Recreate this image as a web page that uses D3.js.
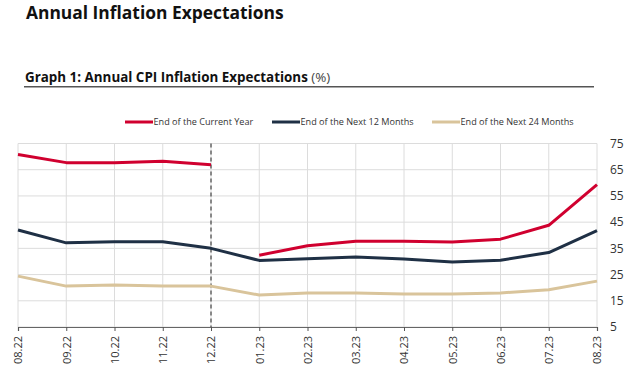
<!DOCTYPE html>
<html><head><meta charset="utf-8">
<script src="https://cdn.jsdelivr.net/npm/d3@7"></script>
<style>
body{margin:0;background:#fff;}
svg{display:block;font-family:"Open Sans",sans-serif;}
</style></head>
<body><svg id="c" width="641" height="380"></svg>
<script>
const months = ["08.22","09.22","10.22","11.22","12.22","01.23","02.23","03.23","04.23","05.23","06.23","07.23","08.23"];
const currentYear = [70.8,67.7,67.7,68.2,66.9,32.4,36.0,37.7,37.7,37.4,38.5,43.8,59.3];
const next12 = [42.0,37.1,37.5,37.5,35.0,30.4,31.0,31.7,30.9,29.8,30.5,33.4,41.8];
const next24 = [24.4,20.6,21.0,20.6,20.6,17.2,18.0,18.0,17.6,17.6,18.0,19.2,22.5];
const yTicks = [5,15,25,35,45,55,65,75];
const seriesNames = ["End of the Current Year","End of the Next 12 Months","End of the Next 24 Months"];
const seriesColors = ["#d0002f","#1f3045","#d9c49b"];
const breakAfter = "12.22";

const svg = d3.select("#c");
const L=18,R=597,T=143.5,B=327;
const x = d3.scalePoint().domain(months).range([L,R]);
const y = d3.scaleLinear().domain([5,75]).range([B,T]);

svg.append("text").attr("x",26).attr("y",19).attr("font-size",17.4).attr("font-weight","bold").attr("fill","#111").text("Annual Inflation Expectations");
const st = svg.append("text").attr("x",25).attr("y",82).attr("font-size",13.4).attr("fill","#111");
st.append("tspan").attr("font-weight","bold").text("Graph 1: Annual CPI Inflation Expectations");
st.append("tspan").attr("fill","#444").text(" (%)");
svg.append("line").attr("x1",24).attr("x2",594).attr("y1",86.8).attr("y2",86.8).attr("stroke","#555").attr("stroke-width",1.5);

// grid
svg.append("g").selectAll("line").data(yTicks).join("line")
  .attr("x1",L).attr("x2",R).attr("y1",d=>y(d)).attr("y2",d=>y(d)).attr("stroke","#dcdcdc").attr("stroke-width",1);
svg.append("g").selectAll("line").data(months).join("line")
  .attr("x1",d=>x(d)).attr("x2",d=>x(d)).attr("y1",T).attr("y2",B).attr("stroke","#dcdcdc").attr("stroke-width",1);

// x axis
const xa = svg.append("g").attr("transform",`translate(0,${B})`).call(d3.axisBottom(x).tickSize(4).tickPadding(6));
xa.select(".domain").attr("stroke","#666").attr("stroke-width",1.2);
xa.selectAll(".tick line").attr("stroke","#555");
xa.selectAll("text").attr("font-family","Open Sans").attr("font-size",11).attr("fill","#333")
  .attr("transform","rotate(-90)").attr("text-anchor","end").attr("x",-9).attr("y",0).attr("dy","0.35em");

// y axis on right
const ya = svg.append("g").attr("transform",`translate(${R},0)`).call(d3.axisRight(y).tickValues(yTicks).tickSize(0).tickPadding(13));
ya.select(".domain").remove();
ya.selectAll("text").attr("font-family","Open Sans").attr("font-size",12).attr("fill","#333");

// dashed break
svg.append("line").attr("x1",x(breakAfter)).attr("x2",x(breakAfter)).attr("y1",T).attr("y2",B)
  .attr("stroke","#222").attr("stroke-width",1).attr("stroke-dasharray","4,3");

const line = d3.line().x(d=>x(d.m)).y(d=>y(d.v)).defined(d=>d.v!=null);
const bi = months.indexOf(breakAfter);
const data = [currentYear,next12,next24];
[2,1,0].forEach(i=>{
  const pts = months.map((m,j)=>({m,v:data[i][j]}));
  let segs;
  if(i===0){ segs=[pts.slice(0,bi+1),pts.slice(bi+1)]; } else segs=[pts];
  segs.forEach(s=>svg.append("path").datum(s).attr("d",line).attr("fill","none")
    .attr("stroke",seriesColors[i]).attr("stroke-width",3).attr("stroke-linejoin","round"));
});

// legend
const legX=[125,272,432];
seriesNames.forEach((n,i)=>{
  svg.append("line").attr("x1",legX[i]).attr("x2",legX[i]+28).attr("y1",122).attr("y2",122).attr("stroke",seriesColors[i]).attr("stroke-width",3);
  svg.append("text").attr("x",legX[i]+28.5).attr("y",125.3).attr("font-size",9.1).attr("fill","#333").text(n);
});
</script></body></html>
